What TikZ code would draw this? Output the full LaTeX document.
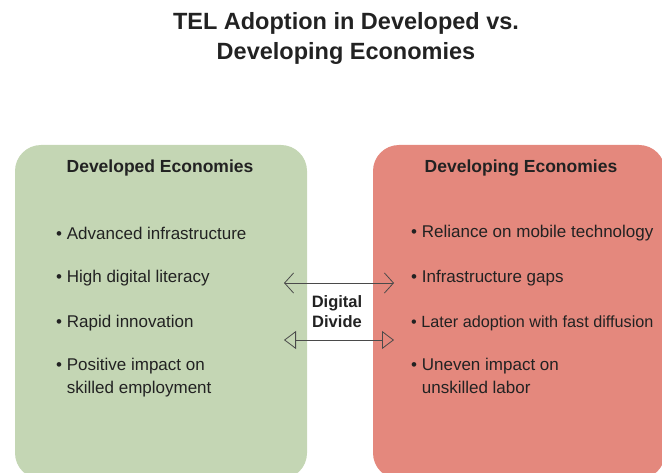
\documentclass[tikz,border=0pt]{standalone}
\usepackage{fontspec}
\setmainfont{Liberation Sans}
\usetikzlibrary{positioning, arrows.meta, calc}

\definecolor{devgreen}{HTML}{C4D6B4}
\definecolor{devred}{HTML}{E4887D}
\definecolor{inktext}{HTML}{222222}
\definecolor{divline}{HTML}{4A4A4A}

\begin{document}
\begin{tikzpicture}[x=1pt, y=-1pt, >=Straight Barb, text=inktext]
\tikzset{panel/.style={rounded corners=26pt, minimum width=292pt, minimum height=334pt, inner sep=0},
  head/.style={font=\fontsize{17.5}{20}\selectfont\bfseries},
  item/.style={anchor=west, align=left, inner sep=0, font=\fontsize{17}{22.5}\selectfont},
  divarrow/.style={draw=divline, line width=0.8pt}}
\useasboundingbox (0,0) rectangle (662,473);
% title
\node[font=\fontsize{23.5}{30}\selectfont\bfseries, align=center] (title) at (346,38) {TEL Adoption in Developed vs.\\Developing Economies};
% the two panels
\node[panel, fill=devgreen] (dvd) at (161,312) {};
\node[panel, fill=devred] (dvg) at (519,312) {};
\node[head] (dvdh) at (160,168) {Developed Economies};
\node[head] (dvgh) at (521,168) {Developing Economies};
% left list
\node[item] (d1) at (56,233) {\textbullet\ Advanced infrastructure};
\node[item] (d2) at (56,278) {\textbullet\ High digital literacy};
\node[item] (d3) at (56,323) {\textbullet\ Rapid innovation};
\node[item, anchor=north west] (d4) at (56,358) {\textbullet\ Positive impact on\\\phantom{\textbullet\ }skilled employment};
% right list
\node[item] (g1) at (411,233) {\textbullet\ Reliance on mobile technology};
\node[item] (g2) at (411,278) {\textbullet\ Infrastructure gaps};
\node[item, font=\fontsize{16.2}{22.5}\selectfont] (g3) at (411,323) {\textbullet\ Later adoption with fast diffusion};
\node[item, anchor=north west] (g4) at (411,358) {\textbullet\ Uneven impact on\\\phantom{\textbullet\ }unskilled labor};
% divide in the middle
\node[font=\fontsize{16.5}{20}\selectfont\bfseries, align=center] (gap) at (337,312) {Digital\\Divide};
\coordinate (a1l) at (284,283); \coordinate (a1r) at (394,283);
\coordinate (a2l) at (284,340); \coordinate (a2r) at (394,340);
\draw[divarrow, {Straight Barb[length=9pt, width=20pt]}-{Straight Barb[length=9pt, width=20pt]}] (a1l) -- (a1r);
\draw[divarrow, {Triangle[open, length=12pt, width=18pt]}-{Triangle[open, length=12pt, width=18pt]}] (a2l) -- (a2r);
\end{tikzpicture}
\end{document}
